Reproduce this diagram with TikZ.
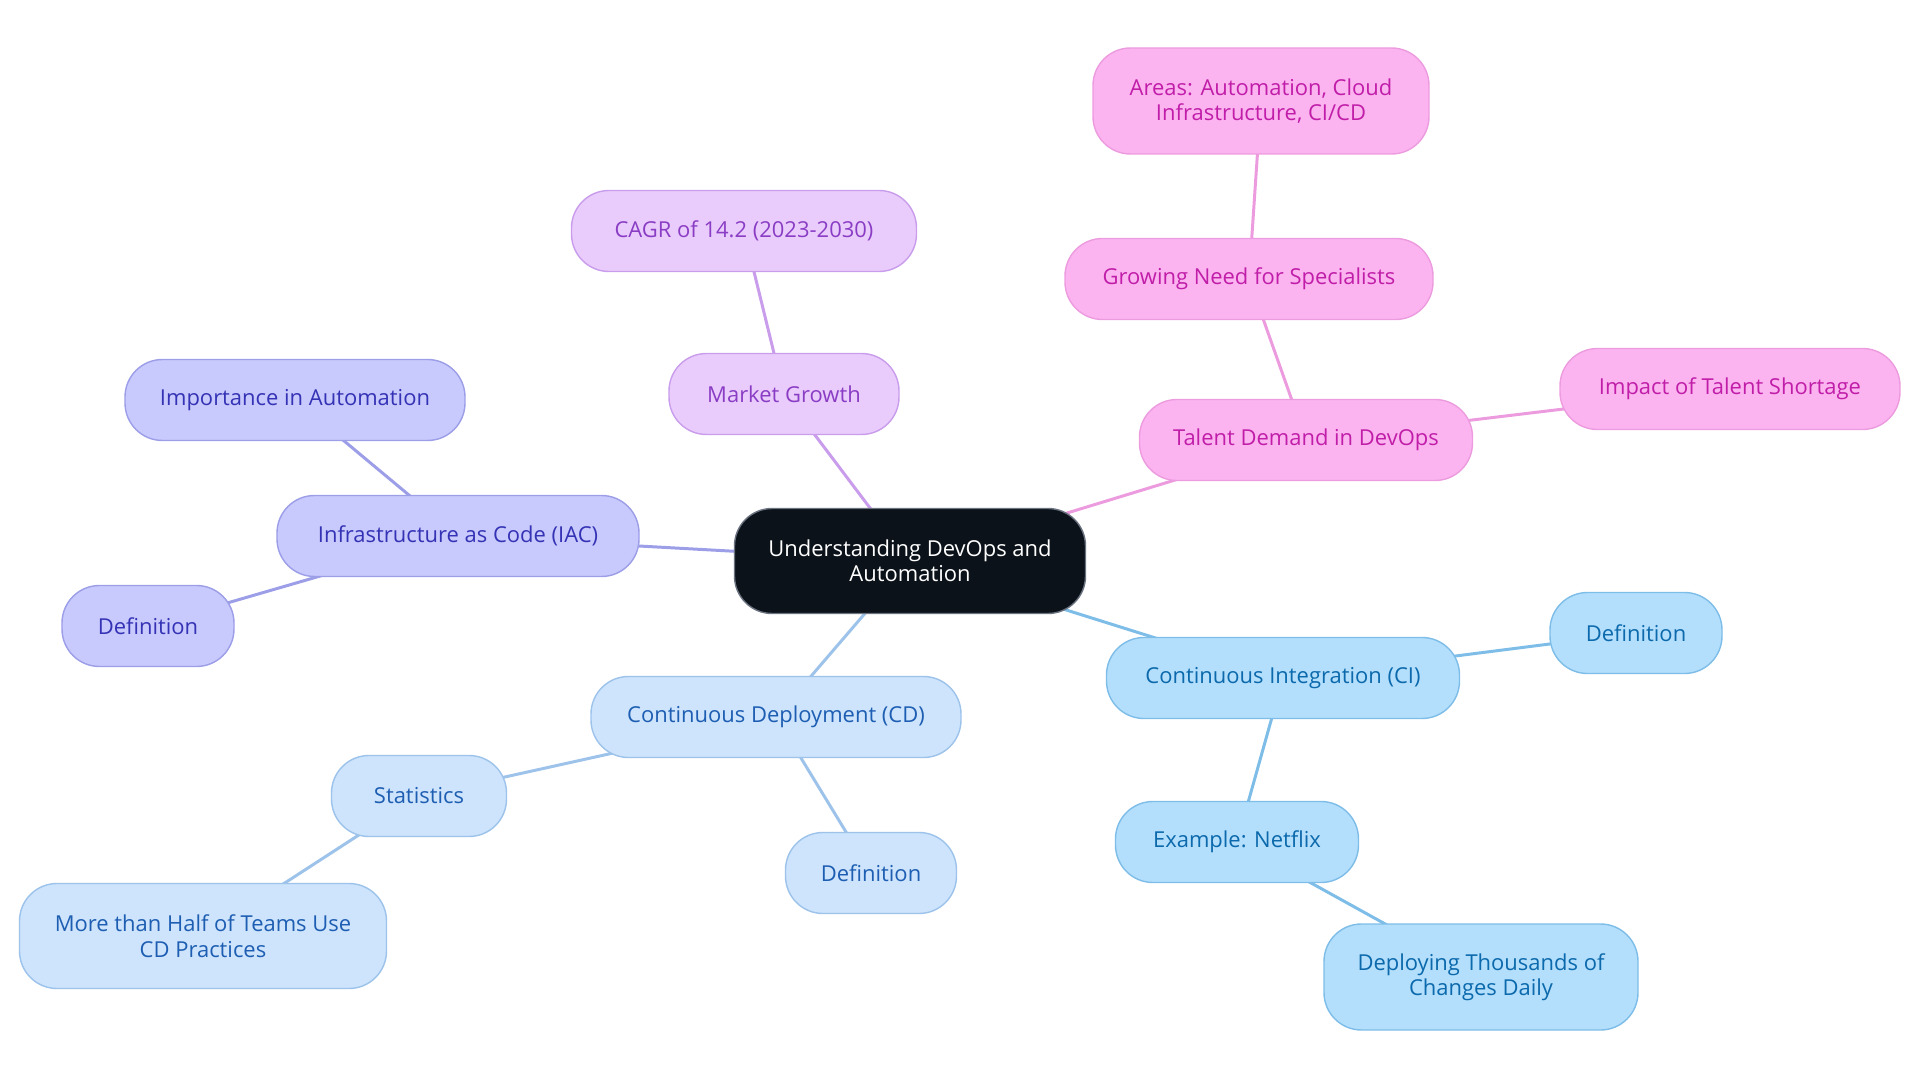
\documentclass[tikz,border=0pt]{standalone}
\usepackage{fontspec}
\setmainfont{Open Sans}
\usepackage{tikz}
\usetikzlibrary{backgrounds}

\definecolor{rootfill}{HTML}{0B1219}
\definecolor{rootline}{HTML}{6B7280}
\definecolor{mktfill}{HTML}{E9CCFC}
\definecolor{mktline}{HTML}{C99DEB}
\definecolor{mkttext}{HTML}{8A3DC4}
\definecolor{talfill}{HTML}{FCB4F1}
\definecolor{talline}{HTML}{EC9CDE}
\definecolor{taltext}{HTML}{C01EA8}
\definecolor{iacfill}{HTML}{C8C9FC}
\definecolor{iacline}{HTML}{9C9EE8}
\definecolor{iactext}{HTML}{3533B5}
\definecolor{cdfill}{HTML}{CDE4FC}
\definecolor{cdline}{HTML}{9DC3EB}
\definecolor{cdtext}{HTML}{1E5EB2}
\definecolor{cifill}{HTML}{B3DFFC}
\definecolor{ciline}{HTML}{7EBDE8}
\definecolor{citext}{HTML}{0B69AC}

\tikzset{
  pill/.style={rounded corners=7.5mm, align=center, minimum height=16.2mm,
    inner sep=0pt, line width=0.8pt, font=\fontsize{12.5}{14.5}\selectfont},
  rootbox/.style={pill, fill=rootfill, draw=rootline, text=white, minimum height=21mm},
  mktbox/.style={pill, fill=mktfill, draw=mktline, text=mkttext},
  talbox/.style={pill, fill=talfill, draw=talline, text=taltext},
  iacbox/.style={pill, fill=iacfill, draw=iacline, text=iactext},
  cdbox/.style={pill, fill=cdfill, draw=cdline, text=cdtext},
  cibox/.style={pill, fill=cifill, draw=ciline, text=citext},
  link/.style={line width=1.7pt}
}

\begin{document}
\begin{tikzpicture}[x=0.2mm, y=-0.2mm]
    \useasboundingbox (0,0) rectangle (1920,1083);

    % Centre
    \node[rootbox, minimum width=70.2mm] (root) at (910,561) {Understanding DevOps and\\Automation};

    % Market branch
    \node[mktbox, minimum width=46mm] (market) at (784,394) {Market Growth};
    \node[mktbox, minimum width=69mm] (cagr) at (744,231) {CAGR of 14.2 (2023-2030)};

    % Talent branch
    \node[talbox, minimum width=66.6mm] (talent) at (1306,440) {Talent Demand in DevOps};
    \node[talbox, minimum width=73.6mm] (growing) at (1249,279) {Growing Need for Specialists};
    \node[talbox, minimum width=67.2mm, minimum height=21.2mm] (areas) at (1261,101) {Areas: Automation, Cloud\\Infrastructure, CI/CD};
    \node[talbox, minimum width=68mm] (impact) at (1730,389) {Impact of Talent Shortage};

    % IAC branch
    \node[iacbox, minimum width=72.4mm] (iac) at (458,536) {Infrastructure as Code (IAC)};
    \node[iacbox, minimum width=68mm] (importance) at (295,400) {Importance in Automation};
    \node[iacbox, minimum width=34.4mm] (iacdef) at (148,626) {Definition};

    % CD branch
    \node[cdbox, minimum width=74mm] (cd) at (776,717) {Continuous Deployment (CD)};
    \node[cdbox, minimum width=35mm] (stats) at (419,796) {Statistics};
    \node[cdbox, minimum width=73.4mm, minimum height=21mm] (half) at (203,936) {More than Half of Teams Use\\CD Practices};
    \node[cdbox, minimum width=34.2mm] (cddef) at (871,873) {Definition};

    % CI branch
    \node[cibox, minimum width=70.6mm] (ci) at (1283,678) {Continuous Integration (CI)};
    \node[cibox, minimum width=34.4mm] (cidef) at (1636,633) {Definition};
    \node[cibox, minimum width=48.6mm] (netflix) at (1237,842) {Example: Netflix};
    \node[cibox, minimum width=62.8mm, minimum height=21.2mm] (deploy) at (1481,977) {Deploying Thousands of\\Changes Daily};

    % Links, behind the boxes
    \begin{scope}[on background layer]
    \draw[link, mktline] (root.center) -- (market.center);
    \draw[link, mktline] (market.center) -- (cagr.center);
    \draw[link, talline] (root.center) -- (talent.center);
    \draw[link, talline] (talent.center) -- (growing.center);
    \draw[link, talline] (growing.center) -- (areas.center);
    \draw[link, talline] (talent.center) -- (impact.center);
    \draw[link, iacline] (root.center) -- (iac.center);
    \draw[link, iacline] (iac.center) -- (importance.center);
    \draw[link, iacline] (iac.center) -- (iacdef.center);
    \draw[link, cdline] (root.center) -- (cd.center);
    \draw[link, cdline] (cd.center) -- (stats.center);
    \draw[link, cdline] (stats.center) -- (half.center);
    \draw[link, cdline] (cd.center) -- (cddef.center);
    \draw[link, ciline] (root.center) -- (ci.center);
    \draw[link, ciline] (ci.center) -- (cidef.center);
    \draw[link, ciline] (ci.center) -- (netflix.center);
    \draw[link, ciline] (netflix.center) -- (deploy.center);
    \end{scope}
\end{tikzpicture}
\end{document}
